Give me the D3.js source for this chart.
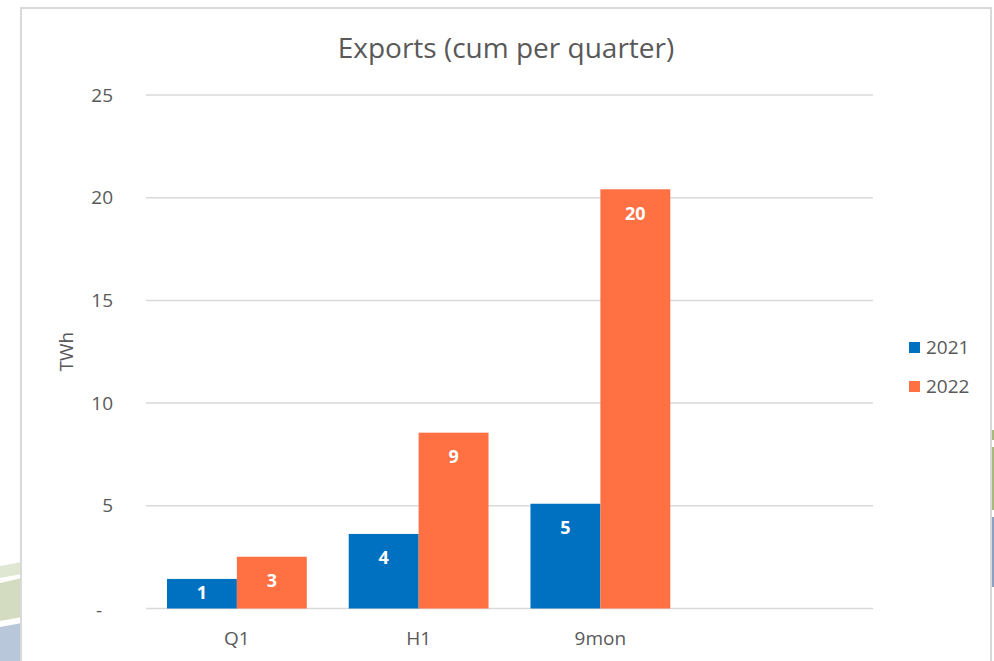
<!DOCTYPE html>
<html>
<head>
<meta charset="utf-8">
<script src="https://cdn.jsdelivr.net/npm/d3@7"></script>
<style>
    html, body { margin: 0; padding: 0; background: #ffffff; }
    svg { display: block; font-family: 'Open Sans', 'Noto Sans', sans-serif; }
</style>
</head>
<body>
<svg id="chart" width="994" height="661"></svg>
<script>
(function (d3) {
    'use strict';

    // data
    var categories = ['Q1', 'H1', '9mon', ''],
        seriesNames = ['2021', '2022'],
        values2021 = [1.44, 3.63, 5.10, null],
        values2022 = [2.52, 8.56, 20.41, null],
        yTicks = [0, 5, 10, 15, 20, 25],
        seriesColors = ['#0070C0', '#FF7043'];

    var svg = d3.select('#chart'),
        TEXT_COLOR = '#595959',
        GRID_COLOR = '#d9d9d9',
        LABEL_SIZE = '19px',
        plot = { left: 146, right: 873, top: 95, bottom: 608.5 },
        series = [values2021, values2022];

    // background slide decoration peeking out around the chart
    var deco = svg.append('g');
    deco.append('path').attr('d', 'M0,566 L22,562 L22,574 L0,578 Z').attr('fill', '#dfe6d2');
    deco.append('path').attr('d', 'M0,583 L22,578 L22,617 L0,621 Z').attr('fill', '#d3dcc0');
    deco.append('path').attr('d', 'M0,627 L22,623 L22,661 L0,661 Z').attr('fill', '#b9c7db');
    deco.append('rect').attr('x', 992).attr('y', 430).attr('width', 2).attr('height', 10).attr('fill', '#a9b97e');
    deco.append('rect').attr('x', 992).attr('y', 447).attr('width', 2).attr('height', 63).attr('fill', '#a9b97e');
    deco.append('rect').attr('x', 992).attr('y', 517).attr('width', 2).attr('height', 70).attr('fill', '#8ea0c2');

    // chart frame
    svg.append('rect')
        .attr('x', 21).attr('y', 8)
        .attr('width', 970).attr('height', 700)
        .attr('fill', '#ffffff')
        .attr('stroke', GRID_COLOR)
        .attr('stroke-width', 2);

    svg.append('text')
        .attr('x', 506).attr('y', 58)
        .attr('text-anchor', 'middle')
        .attr('fill', TEXT_COLOR)
        .style('font-size', '28px')
        .text('Exports (cum per quarter)');

    var x = d3.scaleBand()
        .domain(categories)
        .range([plot.left, plot.right])
        .paddingInner(0)
        .paddingOuter(0);

    var barWidth = x.bandwidth() / 2.6;

    var xInner = d3.scaleBand()
        .domain(seriesNames)
        .range([0, barWidth * 2]);

    var y = d3.scaleLinear()
        .domain([0, 25])
        .range([plot.bottom, plot.top]);

    // gridlines
    svg.append('g')
        .selectAll('line')
        .data(yTicks)
        .join('line')
        .attr('x1', plot.left).attr('x2', plot.right)
        .attr('y1', function (d) { return y(d); })
        .attr('y2', function (d) { return y(d); })
        .attr('stroke', GRID_COLOR)
        .attr('stroke-width', 1.5);

    // y tick labels, zero shown accounting style
    svg.append('g')
        .selectAll('text')
        .data(yTicks)
        .join('text')
        .attr('x', function (d) { return d === 0 ? 102 : 113; })
        .attr('y', function (d) { return y(d); })
        .attr('dy', function (d) { return d === 0 ? '0.45em' : '0.35em'; })
        .attr('text-anchor', 'end')
        .attr('fill', TEXT_COLOR)
        .style('font-size', LABEL_SIZE)
        .text(function (d) { return d === 0 ? '-' : d; });

    // category labels
    svg.append('g')
        .selectAll('text')
        .data(categories)
        .join('text')
        .attr('x', function (d) { return x(d) + x.bandwidth() / 2; })
        .attr('y', 645)
        .attr('text-anchor', 'middle')
        .attr('fill', TEXT_COLOR)
        .style('font-size', LABEL_SIZE)
        .text(function (d) { return d; });

    svg.append('text')
        .attr('transform', 'translate(73,' + ((plot.top + plot.bottom) / 2) + ') rotate(-90)')
        .attr('text-anchor', 'middle')
        .attr('fill', TEXT_COLOR)
        .style('font-size', LABEL_SIZE)
        .text('TWh');

    // bars
    var groups = svg.append('g')
        .selectAll('g')
        .data(series)
        .join('g')
        .attr('fill', function (d, i) { return seriesColors[i]; });

    var cells = function (s, i) {
        return categories.map(function (c, j) {
            return { cat: c, name: seriesNames[i], value: s[j] };
        }).filter(function (d) { return d.value !== null; });
    };

    var barX = function (d) {
        return x(d.cat) + (x.bandwidth() - barWidth * 2) / 2 + xInner(d.name);
    };

    groups.selectAll('rect')
        .data(cells)
        .join('rect')
        .attr('x', barX)
        .attr('y', function (d) { return y(d.value); })
        .attr('width', xInner.bandwidth())
        .attr('height', function (d) { return y(0) - y(d.value); });

    // data labels, inside end
    groups.selectAll('text')
        .data(cells)
        .join('text')
        .attr('x', function (d) { return barX(d) + xInner.bandwidth() / 2; })
        .attr('y', function (d) {
            var h = y(0) - y(d.value);
            return y(d.value) + Math.min(24, h / 2 - 1);
        })
        .attr('dy', '0.35em')
        .attr('text-anchor', 'middle')
        .attr('fill', '#ffffff')
        .style('font-size', '18px')
        .style('font-weight', 'bold')
        .text(function (d) { return Math.round(d.value); });

    // legend
    var legend = svg.append('g')
        .selectAll('g')
        .data(seriesNames)
        .join('g')
        .attr('transform', function (d, i) { return 'translate(909,' + (342 + i * 39) + ')'; });

    legend.append('rect')
        .attr('width', 11).attr('height', 11)
        .attr('fill', function (d, i) { return seriesColors[i]; });

    legend.append('text')
        .attr('x', 17).attr('y', 11.5)
        .attr('fill', TEXT_COLOR)
        .style('font-size', LABEL_SIZE)
        .text(function (d) { return d; });
}(window.d3));
</script>
</body>
</html>
